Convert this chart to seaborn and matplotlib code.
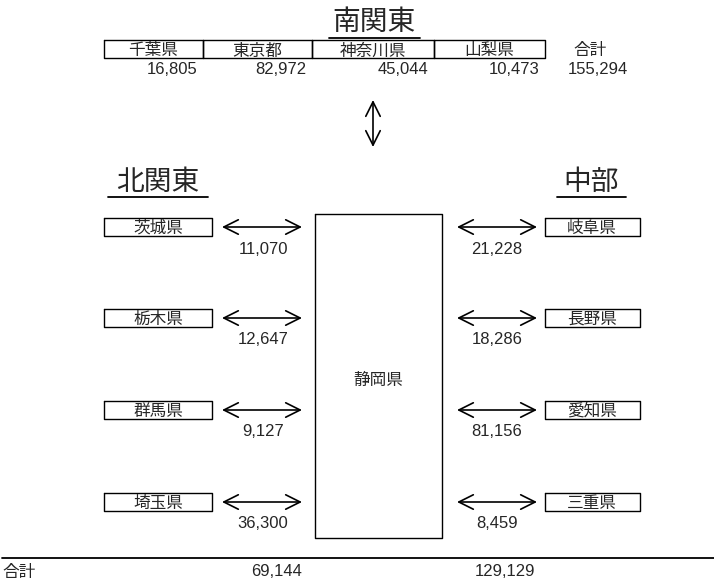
import matplotlib.pyplot as plt
import seaborn as sns

sns.set_theme(style="white")
plt.rcParams['font.family'] = ['Noto Sans CJK JP', 'DejaVu Sans']

# data
south_names = ['千葉県', '東京都', '神奈川県', '山梨県']
south_values = [16805, 82972, 45044, 10473]
south_total = 155294
north_names = ['茨城県', '栃木県', '群馬県', '埼玉県']
north_values = [11070, 12647, 9127, 36300]
north_total = 69144
chubu_names = ['岐阜県', '長野県', '愛知県', '三重県']
chubu_values = [21228, 18286, 81156, 8459]
chubu_total = 129129

num_font = 'Liberation Sans'

fig = plt.figure(figsize=(7.14, 5.84), dpi=100)
ax = fig.add_axes([0, 0, 1, 1])
ax.set_xlim(0, 714)
ax.set_ylim(584, 0)
ax.axis('off')


def box(x0, x1, y0, y1, lw=1.0):
    ax.plot([x0, x1, x1, x0, x0], [y0, y0, y1, y1, y0], color='black', lw=lw)


def arrow(x0, y0, x1, y1):
    ax.annotate('', xy=(x1, y1), xytext=(x0, y0),
                arrowprops=dict(arrowstyle='<->', color='black', lw=1.2,
                                mutation_scale=26, shrinkA=0, shrinkB=0))


# 南関東 header
ax.text(374, 22, '南関東', fontsize=20, ha='center', va='center')
ax.plot([329, 420], [38, 38], color='black', lw=1.3)

edges = [104, 203, 312, 434, 545]
for i, name in enumerate(south_names):
    box(edges[i], edges[i + 1], 40, 58)
    ax.text((edges[i] + edges[i + 1]) / 2, 51, name, fontsize=12,
            ha='center', va='center')
    ax.text(edges[i + 1] - 6, 69, f'{south_values[i]:,}', fontsize=12,
            ha='right', va='center', family=num_font)
ax.text(590, 51, '合計', fontsize=12, ha='center', va='center')
ax.text(628, 69, f'{south_total:,}', fontsize=12, ha='right', va='center',
        family=num_font)

arrow(373, 100, 373, 147)

# 北関東 / 中部 headers
ax.text(158, 182, '北関東', fontsize=20, ha='center', va='center')
ax.plot([108, 208], [197, 197], color='black', lw=1.3)
ax.text(591, 182, '中部', fontsize=20, ha='center', va='center')
ax.plot([557, 626], [197, 197], color='black', lw=1.3)

# 静岡県 box
box(315, 442, 214, 538)
ax.text(378, 380, '静岡県', fontsize=12, ha='center', va='center')

rows_y = [227, 318, 410, 502]
for i, y in enumerate(rows_y):
    box(104, 212, y - 9, y + 9)
    ax.text(158, y + 1.5, north_names[i], fontsize=12, ha='center', va='center')
    arrow(222, y, 302, y)
    ax.text(263, y + 22, f'{north_values[i]:,}', fontsize=12,
            ha='center', va='center', family=num_font)

    box(545, 640, y - 9, y + 9)
    ax.text(592, y + 1.5, chubu_names[i], fontsize=12, ha='center', va='center')
    arrow(457, y, 537, y)
    ax.text(497, y + 22, f'{chubu_values[i]:,}', fontsize=12,
            ha='center', va='center', family=num_font)

# totals
ax.plot([2, 714], [558, 558], color='black', lw=1.3)
ax.text(2, 573, '合計', fontsize=12, ha='left', va='center')
ax.text(277, 572, f'{north_total:,}', fontsize=12, ha='center', va='center',
        family=num_font)
ax.text(505, 572, f'{chubu_total:,}', fontsize=12, ha='center', va='center',
        family=num_font)

fig.savefig('out.png', dpi=100, facecolor='white')
